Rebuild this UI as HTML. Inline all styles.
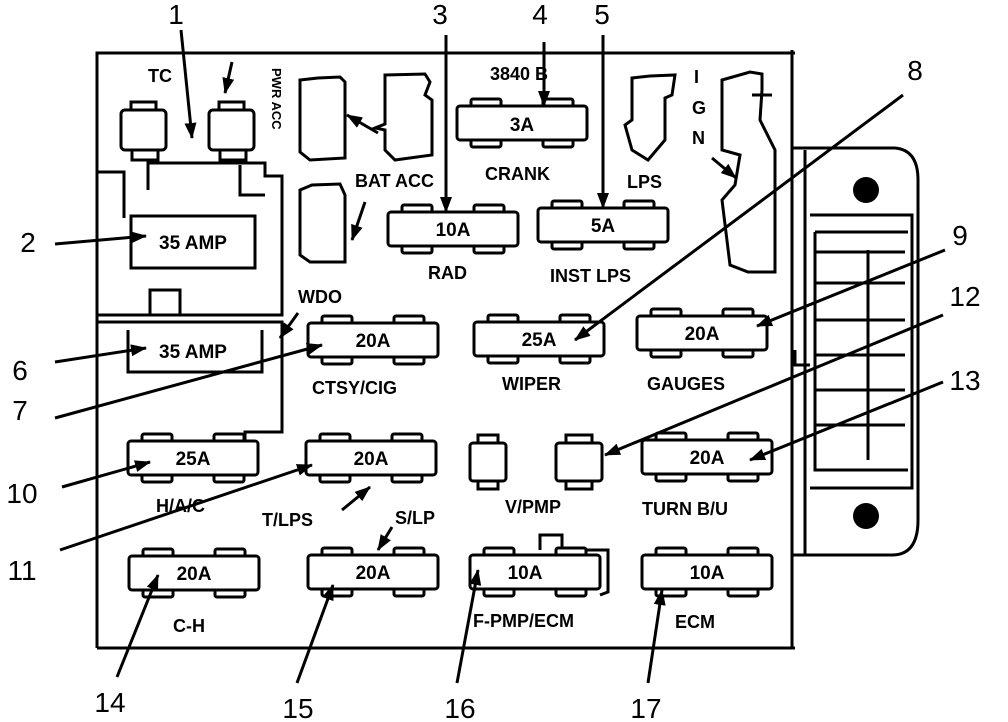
<!DOCTYPE html>
<html><head><meta charset="utf-8"><style>
html,body{margin:0;padding:0;background:#fff;}
svg{display:block;}
text{font-family:"Liberation Sans",sans-serif;font-weight:bold;fill:#000;}
.n text{font-weight:normal;font-size:28px;}
.f text{font-size:19px;}
.l text{font-size:18px;}
</style></head><body>
<svg width="1008" height="722" viewBox="0 0 1008 722" xmlns="http://www.w3.org/2000/svg">
<defs>
<g id="fuse" fill="#fff" stroke="#000" stroke-width="3">
<rect x="14" y="-7" width="30" height="9" rx="2"/>
<rect x="86" y="-7" width="30" height="9" rx="2"/>
<rect x="14" y="32" width="30" height="9" rx="2"/>
<rect x="86" y="32" width="30" height="9" rx="2"/>
<rect x="0" y="0" width="130" height="34" rx="3"/>
</g>
<marker id="ab" markerWidth="16" markerHeight="12" refX="15" refY="6" orient="auto" markerUnits="userSpaceOnUse" viewBox="0 0 16 12">
<path d="M0,0 L16,6 L0,12 z" fill="#000"/>
</marker>
</defs>

<g fill="none" stroke="#000" stroke-width="3">
<path d="M97,648 L97,53 L795,53"/>
<path d="M97,648 L795,648"/>
<path d="M792,50 L792,648"/>
<path d="M792,148 L895,148 Q918,150 918,180 L918,520 Q918,555 892,555 L792,555"/>
<path d="M805,150 L805,555"/>
<path d="M810,215 L912,215 L912,488 L810,488"/>
<path d="M815,232 L908,232 M815,232 L815,470 L908,470"/>
<path d="M868,250 L868,460"/>
<path d="M815,252 L905,252 M815,283 L905,283 M815,320 L905,320 M815,355 L905,355 M815,390 L905,390 M815,425 L905,425"/>
<path d="M795,350 L795,365 L810,365"/>
<path d="M97,172 L124,172 L124,218"/>
<path d="M97,315 L282,315 L282,176 L265,176 L265,163 L148,163 L148,190"/>
<path d="M240,165 L240,195 L265,195"/>
<rect x="150" y="290" width="30" height="25"/>
<path d="M97,322 L282,322 L282,432 L245,432 L245,440"/>
<path d="M128,330 L128,372 L262,372 L262,330"/>
<rect x="121" y="110" width="45" height="40" rx="4"/>
<rect x="131" y="102" width="25" height="8"/>
<path d="M132,150 L132,160 L158,160 L158,150"/>
<rect x="209" y="110" width="45" height="40" rx="4"/>
<rect x="219" y="102" width="25" height="8"/>
<path d="M220,150 L220,160 L246,160 L246,150"/>
<path d="M300,80 L318,78 L340,77 L345,82 L345,158 L310,160 L300,152 Z"/>
<path d="M385,75 L425,74 L430,82 L425,95 L432,100 L432,155 L395,160 L385,150 L385,130 L375,128 L385,124 Z"/>
<path d="M300,190 L312,185 L340,184 L345,195 L345,262 L310,262 L300,255 Z"/>
<path d="M632,78 L650,76 L675,75 L672,95 L665,98 L665,140 L648,160 L632,150 L625,125 L632,120 Z"/>
<path d="M722,80 L750,72 L762,74 L762,90 L760,120 L775,150 L775,272 L748,272 L730,265 L722,200 L735,185 L740,155 L722,150 Z"/>
<path d="M752,95 L772,95"/>
<rect x="470" y="443" width="36" height="38" rx="3"/>
<rect x="478" y="435" width="20" height="8"/>
<rect x="478" y="481" width="20" height="8"/>
<rect x="556" y="443" width="46" height="38" rx="3"/>
<rect x="566" y="435" width="26" height="8"/>
<rect x="566" y="481" width="26" height="8"/>
<path d="M540,550 L540,535 L562,535 L562,550 L608,550 L608,592 L600,595"/>
</g>
<circle cx="866" cy="190" r="13" fill="#000"/>
<circle cx="866" cy="516" r="13" fill="#000"/>

<use href="#fuse" x="457" y="106"/>
<use href="#fuse" x="388" y="212"/>
<use href="#fuse" x="538" y="208"/>
<rect x="131" y="216" width="124" height="52" fill="#fff" stroke="#000" stroke-width="3"/>
<use href="#fuse" x="308" y="323"/>
<use href="#fuse" x="474" y="322"/>
<use href="#fuse" x="637" y="316"/>
<use href="#fuse" x="128" y="441"/>
<use href="#fuse" x="306" y="441"/>
<use href="#fuse" x="642" y="440"/>
<use href="#fuse" x="129" y="556"/>
<use href="#fuse" x="308" y="555"/>
<use href="#fuse" x="470" y="555"/>
<use href="#fuse" x="642" y="555"/>

<g class="f" text-anchor="middle">
<text x="522" y="131">3A</text>
<text x="453" y="236">10A</text>
<text x="603" y="232">5A</text>
<text x="193" y="249">35 AMP</text>
<text x="193" y="358">35 AMP</text>
<text x="373" y="347">20A</text>
<text x="539" y="346">25A</text>
<text x="702" y="340">20A</text>
<text x="193" y="465">25A</text>
<text x="371" y="465">20A</text>
<text x="707" y="464">20A</text>
<text x="194" y="580">20A</text>
<text x="373" y="579">20A</text>
<text x="525" y="579">10A</text>
<text x="707" y="579">10A</text>
</g>

<g class="l">
<text x="148" y="82">TC</text>
<text x="490" y="80">3840 B</text>
<text x="355" y="187">BAT ACC</text>
<text x="485" y="180">CRANK</text>
<text x="627" y="188">LPS</text>
<text x="428" y="279">RAD</text>
<text x="550" y="282">INST LPS</text>
<text x="298" y="303">WDO</text>
<text x="312" y="394">CTSY/CIG</text>
<text x="502" y="390">WIPER</text>
<text x="647" y="390">GAUGES</text>
<text x="156" y="512">H/A/C</text>
<text x="262" y="526">T/LPS</text>
<text x="395" y="524">S/LP</text>
<text x="505" y="513">V/PMP</text>
<text x="642" y="515">TURN B/U</text>
<text x="173" y="632">C-H</text>
<text x="473" y="627">F-PMP/ECM</text>
<text x="675" y="628">ECM</text>
<text x="694" y="83">I</text>
<text x="692" y="114">G</text>
<text x="692" y="144">N</text>
<text x="0" y="0" style="font-size:13px" transform="translate(272,68) rotate(90)">PWR ACC</text>
</g>

<g class="n" text-anchor="middle">
<text x="176" y="24">1</text>
<text x="28" y="252">2</text>
<text x="440" y="24">3</text>
<text x="540" y="24">4</text>
<text x="602" y="24">5</text>
<text x="20" y="380">6</text>
<text x="20" y="420">7</text>
<text x="915" y="80">8</text>
<text x="960" y="245">9</text>
<text x="22" y="503">10</text>
<text x="22" y="580">11</text>
<text x="965" y="306">12</text>
<text x="965" y="390">13</text>
<text x="110" y="712">14</text>
<text x="298" y="718">15</text>
<text x="460" y="718">16</text>
<text x="646" y="718">17</text>
</g>

<g stroke="#000" stroke-width="3" fill="none">
<path d="M181,30 L192,138" marker-end="url(#ab)"/>
<path d="M232,62 L225,93" marker-end="url(#ab)"/>
<path d="M446,35 L446,212" marker-end="url(#ab)"/>
<path d="M544,42 L544,106" marker-end="url(#ab)"/>
<path d="M603,35 L603,208" marker-end="url(#ab)"/>
<path d="M55,244 L146,236" marker-end="url(#ab)"/>
<path d="M55,362 L146,348" marker-end="url(#ab)"/>
<path d="M55,418 L322,345" marker-end="url(#ab)"/>
<path d="M903,95 L575,340" marker-end="url(#ab)"/>
<path d="M945,250 L757,326" marker-end="url(#ab)"/>
<path d="M62,487 L150,462" marker-end="url(#ab)"/>
<path d="M60,550 L312,465" marker-end="url(#ab)"/>
<path d="M943,315 L605,455" marker-end="url(#ab)"/>
<path d="M943,382 L750,460" marker-end="url(#ab)"/>
<path d="M117,677 L158,575" marker-end="url(#ab)"/>
<path d="M297,683 L333,585" marker-end="url(#ab)"/>
<path d="M457,683 L478,570" marker-end="url(#ab)"/>
<path d="M648,683 L662,590" marker-end="url(#ab)"/>
<path d="M378,133 L347,115" marker-end="url(#ab)"/>
<path d="M365,202 L352,240" marker-end="url(#ab)"/>
<path d="M298,313 L280,338" marker-end="url(#ab)"/>
<path d="M712,158 L736,178" marker-end="url(#ab)"/>
<path d="M342,510 L370,487" marker-end="url(#ab)"/>
<path d="M392,527 L378,550" marker-end="url(#ab)"/>
</g>
</svg>
</body></html>
